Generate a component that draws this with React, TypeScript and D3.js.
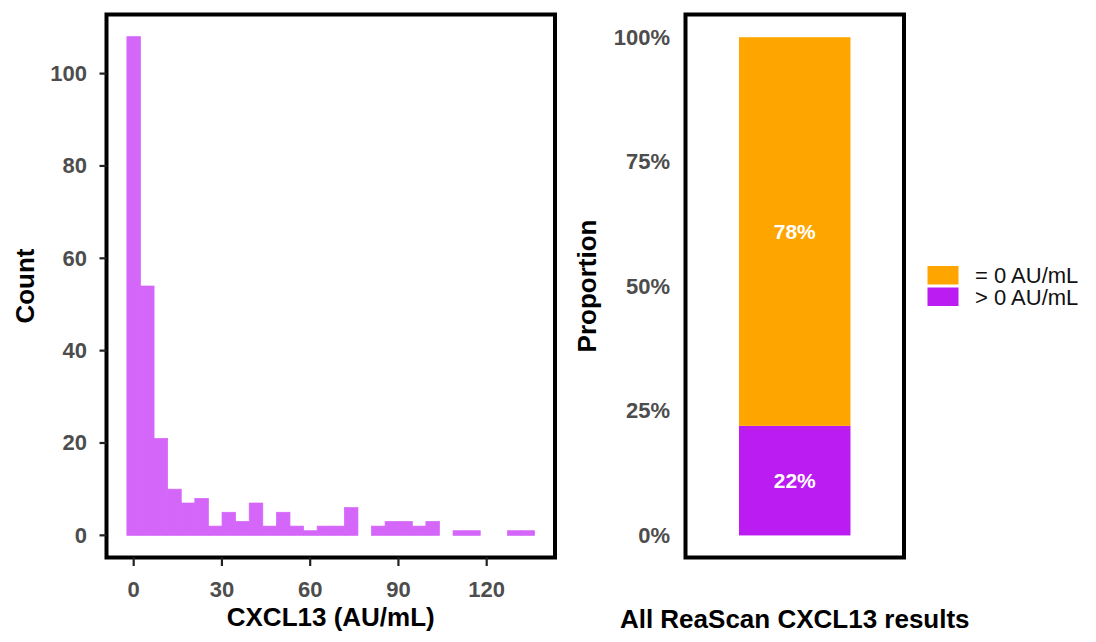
import * as d3 from "d3";

// histogram: counts per bin, bins centred on 0, width 4.62 AU/mL
const binWidth = 4.62;
const counts = [
  108, 54, 21, 10, 7, 8, 2, 5, 3, 7, 2, 5, 2, 1, 2, 2, 6, 0, 2, 3, 3, 2, 3, 0,
  1, 1, 0, 0, 1, 1,
];
const xTicks = [0, 30, 60, 90, 120];
const yTicks = [0, 20, 40, 60, 80, 100];

// proportion panel
const groupName = "All ReaScan CXCL13 results";
const categories = ["> 0 AU/mL", "= 0 AU/mL"]; // stacking order, bottom first
const proportions = [0.22, 0.78];
const legendOrder = ["= 0 AU/mL", "> 0 AU/mL"];
const pctTicks = [0, 0.25, 0.5, 0.75, 1];

const colors: Record<string, string> = {
  "= 0 AU/mL": "#ffa500",
  "> 0 AU/mL": "#bb1cf1",
};
const histFill = "#d466f9";

const width = 1096;
const height = 642;
const font = "'Liberation Sans', Arial, sans-serif";
const tickColor = "#4d4d4d";
const top = 14.5;
const bottom = 557.5;

export default function App() {
  // left panel scales (ggplot-like expansion)
  const x = d3.scaleLinear([-9.24, 143.22], [106.5, 555]);
  const y = d3.scaleLinear([-4.8, 112.8], [bottom, top]);

  // right panel
  const px0 = 685.5;
  const px1 = 904;
  const band = d3
    .scaleBand([groupName], [px0, px1])
    .paddingInner(0)
    .paddingOuter(0.48);
  const yp = d3.scaleLinear([-0.0443, 1.0456], [bottom, top]);
  const row: Record<string, number> = {};
  categories.forEach((c, i) => (row[c] = proportions[i]));
  const stacked = d3.stack<Record<string, number>>().keys(categories)([row]);
  const fmt = d3.format(".0%");

  return (
    <svg
      width={width}
      height={height}
      style={{ position: "absolute", left: 0, top: 0, background: "#fff" }}
      fontFamily={font}
    >
      {/* histogram */}
      <g fill={histFill} stroke={histFill} strokeWidth={0.7}>
        {counts.map((c, i) =>
          c > 0 ? (
            <rect
              key={i}
              x={x((i - 0.5) * binWidth)}
              width={x(binWidth) - x(0)}
              y={y(c)}
              height={y(0) - y(c)}
            />
          ) : null
        )}
      </g>
      <rect
        x={106.5}
        y={top}
        width={555 - 106.5}
        height={bottom - top}
        fill="none"
        stroke="#000"
        strokeWidth={4}
      />
      <g stroke="#222" strokeWidth={2.2}>
        {yTicks.map((t) => (
          <line key={t} x1={99.5} x2={106.5} y1={y(t)} y2={y(t)} />
        ))}
        {xTicks.map((t) => (
          <line key={t} x1={x(t)} x2={x(t)} y1={bottom} y2={566} />
        ))}
      </g>
      <g fill={tickColor} fontSize={22} fontWeight="bold">
        {yTicks.map((t) => (
          <text key={t} x={87} y={y(t)} textAnchor="end" dominantBaseline="central">
            {t}
          </text>
        ))}
        {xTicks.map((t) => (
          <text key={t} x={x(t)} y={597} textAnchor="middle">
            {t}
          </text>
        ))}
      </g>
      <text
        x={(106.5 + 555) / 2}
        y={626}
        textAnchor="middle"
        fontSize={26}
        fontWeight="bold"
      >
        CXCL13 (AU/mL)
      </text>
      <text
        transform={`translate(34,${(top + bottom) / 2}) rotate(-90)`}
        textAnchor="middle"
        fontSize={26}
        fontWeight="bold"
      >
        Count
      </text>

      {/* proportion bar */}
      {stacked.map((s) => {
        const d = s[0];
        return (
          <g key={s.key}>
            <rect
              x={band(groupName)}
              width={band.bandwidth()}
              y={yp(d[1])}
              height={yp(d[0]) - yp(d[1])}
              fill={colors[s.key]}
            />
            <text
              x={(band(groupName) as number) + band.bandwidth() / 2}
              y={yp((d[0] + d[1]) / 2)}
              textAnchor="middle"
              dominantBaseline="central"
              fill="#fff"
              fontSize={21}
              fontWeight="bold"
            >
              {fmt(d[1] - d[0])}
            </text>
          </g>
        );
      })}
      <rect
        x={px0}
        y={top}
        width={px1 - px0}
        height={bottom - top}
        fill="none"
        stroke="#000"
        strokeWidth={4}
      />
      <g fill={tickColor} fontSize={22} fontWeight="bold">
        {pctTicks.map((t) => (
          <text key={t} x={670} y={yp(t)} textAnchor="end" dominantBaseline="central">
            {fmt(t)}
          </text>
        ))}
      </g>
      <text
        x={(px0 + px1) / 2}
        y={628}
        textAnchor="middle"
        fontSize={26}
        fontWeight="bold"
      >
        {groupName}
      </text>
      <text
        transform={`translate(596,${(top + bottom) / 2}) rotate(-90)`}
        textAnchor="middle"
        fontSize={26}
        fontWeight="bold"
      >
        Proportion
      </text>

      {/* legend */}
      <g>
        {legendOrder.map((k, i) => (
          <g key={k} transform={`translate(927.5,${266 + i * 21.5})`}>
            <rect width={31} height={18.5} fill={colors[k]} />
            <text x={47.5} y={9.5} dominantBaseline="central" fontSize={22} fill="#111">
              {k}
            </text>
          </g>
        ))}
      </g>
    </svg>
  );
}
